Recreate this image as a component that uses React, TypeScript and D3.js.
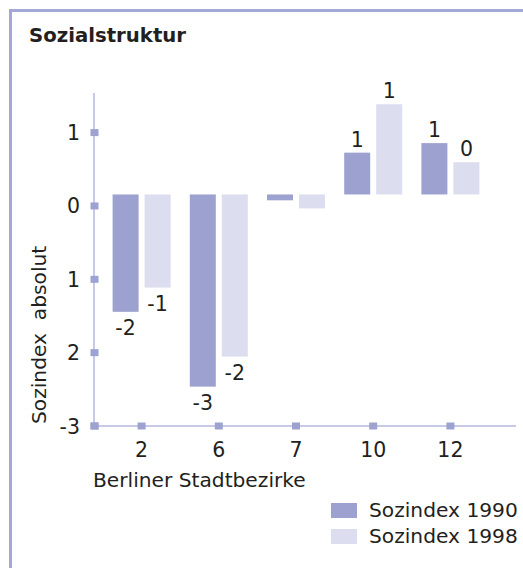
import React from "react";
import * as d3 from "d3";

const districts = ["2", "6", "7", "10", "12"];
const index1990 = [-1.6, -2.62, -0.08, 0.57, 0.7];
const index1998 = [-1.27, -2.21, -0.19, 1.23, 0.44];
const labels1990 = ["-2", "-3", null, "1", "1"];
const labels1998 = ["-1", "-2", null, "1", "0"];
const yTickValues = [1, 0, -1, -2, -3];
const yTickLabels = ["1", "0", "1", "2", "-3"];
const seriesNames = ["Sozindex 1990", "Sozindex 1998"];

const W = 523;
const H = 568;
const frameColor = "#a3a8d6";
const axisColor = "#b4b7de";
const tickColor = "#9da2d1";
const c1990 = "#9ca1d0";
const c1998 = "#dcddee";
const textColor = "#231f20";
const font = "'DejaVu Sans', sans-serif";
const fs = 20.5;
const fsText = 20.2;

const App = () => {
  const left = 94;
  const bottom = 426;
  // axis scale
  const yScale = d3.scaleLinear().domain([-3, 1.54]).range([bottom, 93]);
  // bars hang from a baseline slightly above the 0 tick
  const barShift = -11.5;
  const yBar = (v: number) => yScale(v) + barShift;

  const xScale = d3.scaleBand().domain(districts).range([103, 489]);
  const barW = 26;
  const gap = 6;

  const bars = districts.flatMap((d, i) => {
    const cx = (xScale(d) as number) + xScale.bandwidth() / 2;
    return [
      { d, v: index1990[i], label: labels1990[i], x: cx - gap / 2 - barW, color: c1990 },
      { d, v: index1998[i], label: labels1998[i], x: cx + gap / 2, color: c1998 },
    ];
  });

  return (
    <svg
      width={W}
      height={H}
      style={{ position: "absolute", left: 0, top: 0, fontFamily: font }}
    >
      <rect width={W} height={H} fill="#fff" />
      {/* Rahmen */}
      <line x1={9} x2={W} y1={10.5} y2={10.5} stroke={frameColor} strokeWidth={3} />
      <line x1={10.5} x2={10.5} y1={9} y2={H} stroke={frameColor} strokeWidth={3} />

      <text x={29} y={42} fontSize={19.7} fontWeight="bold" fill={textColor}>
        Sozialstruktur
      </text>

      {/* Balken */}
      {bars.map((b, i) => {
        const y0 = yBar(0);
        const y1 = yBar(b.v);
        return (
          <g key={i}>
            <rect
              x={b.x}
              y={Math.min(y0, y1)}
              width={barW}
              height={Math.abs(y1 - y0)}
              fill={b.color}
            />
            {b.label !== null && (
              <text
                x={b.x + barW / 2}
                y={b.v < 0 ? y1 + 23 : y1 - 6}
                textAnchor="middle"
                fontSize={fs}
                fill={textColor}
              >
                {b.label}
              </text>
            )}
          </g>
        );
      })}

      {/* Achsen */}
      <line x1={left} x2={left} y1={93} y2={bottom} stroke={axisColor} strokeWidth={1.5} />
      <line x1={left} x2={516} y1={bottom} y2={bottom} stroke={axisColor} strokeWidth={1.5} />

      {yTickValues.map((v, i) => (
        <g key={v} transform={`translate(${left},${yScale(v)})`}>
          <rect x={-3.5} y={-3.5} width={8} height={7} fill={tickColor} />
          <text x={-14} y={7.5} textAnchor="end" fontSize={fs} fill={textColor}>
            {yTickLabels[i]}
          </text>
        </g>
      ))}
      <rect x={left - 3.5} y={bottom - 3.5} width={8} height={7} fill={tickColor} />
      {districts.map((d) => {
        const cx = (xScale(d) as number) + xScale.bandwidth() / 2;
        return (
          <g key={d} transform={`translate(${cx},${bottom})`}>
            <rect x={-4} y={-3.5} width={8} height={7} fill={tickColor} />
            <text y={31} textAnchor="middle" fontSize={fs} fill={textColor}>
              {d}
            </text>
          </g>
        );
      })}

      <text x={93} y={487} fontSize={fsText} fill={textColor}>
        Berliner Stadtbezirke
      </text>
      <text
        transform={`translate(46,424) rotate(-90)`}
        fontSize={fsText}
        fill={textColor}
        style={{ whiteSpace: "pre" }}
      >
        {"Sozindex  absolut"}
      </text>

      {/* Legende */}
      {seriesNames.map((s, i) => (
        <g key={s} transform={`translate(331,${503 + i * 26})`}>
          <rect width={26} height={15} fill={i === 0 ? c1990 : c1998} />
          <text x={38} y={14} fontSize={fsText} fill={textColor}>
            {s}
          </text>
        </g>
      ))}
    </svg>
  );
};

export default App;
